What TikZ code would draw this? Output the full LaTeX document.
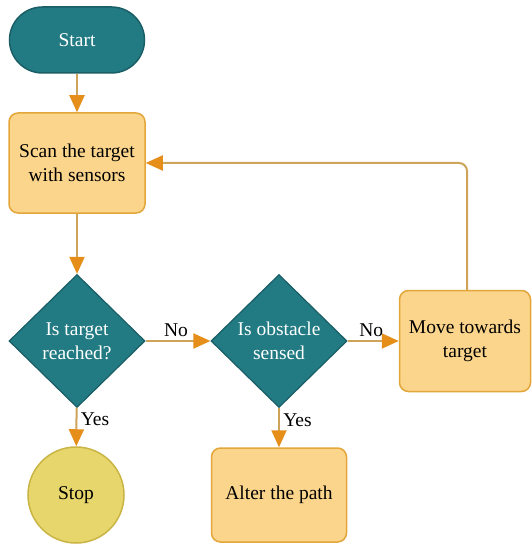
\documentclass[tikz,border=0pt]{standalone}
\usepackage{fontspec}
\setmainfont{Liberation Serif}
\usetikzlibrary{shapes.geometric,arrows.meta}
\definecolor{teal1}{HTML}{227A82}
\definecolor{teal2}{HTML}{1A5E66}
\definecolor{box1}{HTML}{FCD58C}
\definecolor{box2}{HTML}{E3A63A}
\definecolor{stop1}{HTML}{E6D66C}
\definecolor{stop2}{HTML}{C9B444}
\definecolor{line1}{HTML}{CDA458}
\definecolor{head1}{HTML}{E58E1A}
\tikzset{
  x=1pt, y=-1pt,
  every node/.style={font=\fontsize{19.5}{24}\selectfont, align=center},
  term/.style={draw=teal2, fill=teal1, text=white, line width=1.5pt, rounded corners=33pt, minimum width=135pt, minimum height=66pt},
  procbox/.style={draw=box2, fill=box1, line width=1.5pt, rounded corners=9pt},
  decis/.style={diamond, draw=teal2, fill=teal1, text=white, line width=1.2pt, inner sep=0pt, minimum width=136pt, minimum height=133pt},
  stopc/.style={circle, draw=stop2, fill=stop1, line width=1.5pt, minimum size=96pt, inner sep=0pt},
  conn/.style={draw=line1, line width=2pt, -{Triangle[width=15pt,length=17pt,color=head1]}},
  lbl/.style={font=\fontsize{19.5}{24}\selectfont, text=black}
}
\begin{document}
\begin{tikzpicture}
\useasboundingbox (0,0) rectangle (531,545);
\node[term] (start) at (77,40) {Start};
\node[procbox, minimum width=136pt, minimum height=100pt] (scan) at (77,163) {Scan the target\\with sensors};
\node[decis] (d1) at (77,341) {Is target\\reached?};
\node[decis] (d2) at (279,341) {Is obstacle\\sensed};
\node[procbox, minimum width=131pt, minimum height=101pt] (move) at (465,341) {Move towards\\target};
\node[stopc] (stop) at (76,495) {Stop};
\node[procbox, minimum width=135pt, minimum height=94pt] (alter) at (279,495) {Alter the path};
\draw[conn] (start) -- (scan);
\draw[conn] (scan) -- (d1);
\draw[conn] (d1) -- node[lbl, above=0pt, xshift=-2pt] {No} (d2);
\draw[conn] (d2) -- node[lbl, above=0pt, xshift=-2pt] {No} (move);
\draw[conn] (d1) -- node[lbl, right=0pt, pos=0.3] {Yes} (stop);
\draw[conn] (d2) -- node[lbl, right=0pt, pos=0.3] {Yes} (alter);
\draw[conn, rounded corners=8pt] ([xshift=2pt]move.north) |- (scan.east);
\end{tikzpicture}
\end{document}
